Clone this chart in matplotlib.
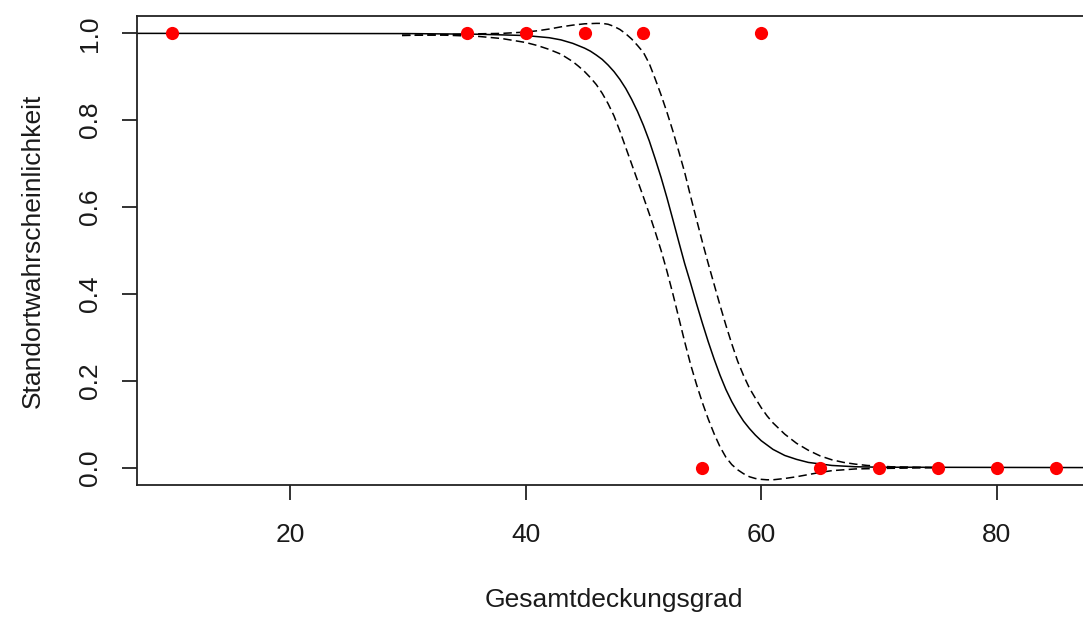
import matplotlib
matplotlib.use("Agg")
import matplotlib.pyplot as plt

# observed data
obs_x = [10, 35, 40, 45, 50, 60, 55, 65, 70, 75, 80, 85]
obs_y = [1, 1, 1, 1, 1, 1, 0, 0, 0, 0, 0, 0]

# fitted curve
fit_x = [7, 30, 36, 40, 42, 43, 44, 45, 45.5, 46, 46.5, 47, 47.5, 48, 48.5, 49, 49.5,
         50, 50.5, 51, 51.5, 52, 52.5, 53, 53.5, 54, 54.5, 55, 55.5, 56, 56.5, 57,
         57.5, 58, 58.5, 59, 59.5, 60, 61, 62, 63, 64, 66, 68, 70, 90]
fit_y = [1.0, 0.9995, 0.998, 0.995, 0.990, 0.985, 0.977, 0.966, 0.959, 0.950, 0.940,
         0.927, 0.912, 0.894, 0.873, 0.848, 0.820, 0.788, 0.752, 0.711, 0.668, 0.621,
         0.571, 0.520, 0.470, 0.425, 0.378, 0.333, 0.290, 0.250, 0.213, 0.180, 0.152,
         0.128, 0.107, 0.090, 0.075, 0.062, 0.042, 0.028, 0.019, 0.012, 0.005, 0.002,
         0.001, 0.0]

# upper confidence band
up_x = [29.5, 33, 36, 38, 40, 41, 42, 43, 44, 45, 46, 46.5, 47, 47.5, 48, 48.5, 49,
        49.5, 50, 50.5, 51, 51.5, 52, 52.5, 53, 53.5, 54, 54.5, 55, 55.5, 56, 56.5,
        57, 57.5, 58, 58.5, 59, 59.5, 60, 60.5, 61, 62, 63, 64, 65, 66, 67, 68, 69,
        71, 75]
up_y = [0.995, 0.997, 0.999, 1.000, 1.003, 1.006, 1.010, 1.015, 1.019, 1.022, 1.023,
        1.023, 1.021, 1.016, 1.009, 0.999, 0.987, 0.972, 0.956, 0.930, 0.895, 0.858,
        0.818, 0.775, 0.728, 0.680, 0.625, 0.572, 0.520, 0.470, 0.422, 0.374, 0.328,
        0.285, 0.245, 0.212, 0.183, 0.160, 0.138, 0.119, 0.103, 0.077, 0.056, 0.040,
        0.027, 0.018, 0.012, 0.008, 0.005, 0.002, 0.0]

# lower confidence band
lo_x = [29.5, 33, 36, 38, 40, 41, 42, 43, 44, 44.5, 45, 45.5, 46, 46.5, 47, 47.5, 48,
        48.5, 49, 49.5, 50, 50.5, 51, 51.5, 52, 52.5, 53, 53.5, 54, 54.5, 55, 55.5,
        56, 56.5, 57, 57.5, 58, 58.5, 59, 59.5, 60, 60.5, 61, 62, 63, 64, 65, 66, 67,
        68, 70, 75]
lo_y = [0.996, 0.996, 0.993, 0.988, 0.979, 0.972, 0.963, 0.952, 0.935, 0.924, 0.912,
        0.898, 0.882, 0.862, 0.838, 0.810, 0.775, 0.737, 0.699, 0.661, 0.623, 0.584,
        0.543, 0.500, 0.452, 0.400, 0.345, 0.290, 0.238, 0.192, 0.150, 0.112, 0.078,
        0.048, 0.024, 0.007, -0.005, -0.014, -0.021, -0.025, -0.027, -0.028, -0.028,
        -0.025, -0.021, -0.016, -0.011, -0.007, -0.005, -0.003, -0.002, 0.0]

xticks = [20, 40, 60, 80]
yticks = [0.0, 0.2, 0.4, 0.6, 0.8, 1.0]
ytick_labels = ["0.0", "0.2", "0.4", "0.6", "0.8", "1.0"]

plt.rcParams['font.family'] = ['Liberation Sans', 'DejaVu Sans']

W, H = 1083, 617
fig = plt.figure(figsize=(W / 100, H / 100), dpi=100)
left, right, top, bottom = 137, 1091, 16, 485
ax = fig.add_axes([left / W, 1 - bottom / H, (right - left) / W, (bottom - top) / H])

dash = (0, (5.5, 2.8))
ax.plot(fit_x, fit_y, color='black', lw=1.1, solid_joinstyle='round')
ax.plot(up_x, up_y, color='black', lw=1.1, linestyle=dash)
ax.plot(lo_x, lo_y, color='black', lw=1.1, linestyle=dash)
ax.plot(obs_x, obs_y, 'o', color='#ff0000', markersize=9.5, markeredgewidth=0, zorder=5)

ax.set_xlim(7, 88)
ax.set_ylim(-0.04, 1.04)
ax.set_xticks(xticks)
ax.set_xticklabels([str(v) for v in xticks])
ax.set_yticks(yticks)
ax.set_yticklabels(ytick_labels, rotation=90, va='center')

for s in ax.spines.values():
    s.set_linewidth(1.3)
    s.set_color('#222222')
ax.tick_params(axis='both', length=11, width=1.3, color='#222222', labelsize=19,
               labelcolor='#1a1a1a')
ax.tick_params(axis='x', pad=16)
ax.tick_params(axis='y', pad=14)

ax.set_xlabel('Gesamtdeckungsgrad', fontsize=19, color='#1a1a1a', labelpad=30)
ax.set_ylabel('Standortwahrscheinlichkeit', fontsize=19, color='#1a1a1a', labelpad=24)

fig.savefig('out.png', dpi=100)
